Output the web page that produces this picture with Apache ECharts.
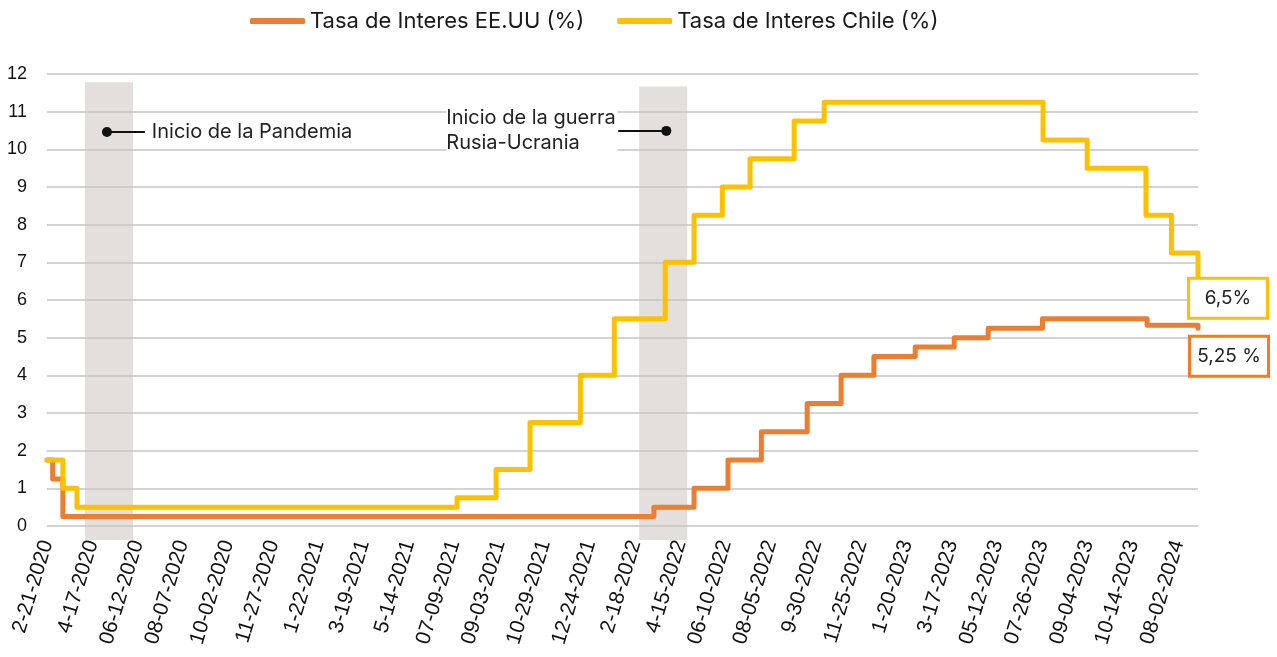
<!DOCTYPE html>
<html>
<head>
<meta charset="utf-8">
<script src="https://cdn.jsdelivr.net/npm/echarts@6/dist/echarts.min.js"></script>
<style>
  html, body { margin: 0; padding: 0; background: #fff; }
  #main { width: 1277px; height: 657px; }
</style>
</head>
<body>
<div id="main"></div>
<script>
// x = semanas desde 2-21-2020 (una etiqueta cada 8)
var tickLabels = ['2-21-2020', '4-17-2020', '06-12-2020', '08-07-2020', '10-02-2020', '11-27-2020',
  '1-22-2021', '3-19-2021', '5-14-2021', '07-09-2021', '09-03-2021', '10-29-2021', '12-24-2021',
  '2-18-2022', '4-15-2022', '06-10-2022', '08-05-2022', '9-30-2022', '11-25-2022',
  '1-20-2023', '3-17-2023', '05-12-2023', '07-26-2023', '09-04-2023', '10-14-2023', '08-02-2024'];

// cambios de tasa (x del cambio, nuevo valor)
var usaX = [0, 1, 2.8, 107.3, 114.4, 120.4, 126.3, 134.4, 140.4, 146.2, 153.5, 160.4, 166.4, 176, 194.5, 203.5];
var usaY = [1.75, 1.25, 0.25, 0.5, 1.0, 1.75, 2.5, 3.25, 4.0, 4.5, 4.75, 5.0, 5.25, 5.5, 5.33, 5.25];

var chileX = [0, 2.8, 5.3, 72.5, 79.4, 85.4, 94.3, 100.3, 109.3, 114.4, 119.4, 124.3, 132.1, 137.4, 176.1, 183.9, 194.3, 198.8, 203.5];
var chileY = [1.75, 1.0, 0.5, 0.75, 1.5, 2.75, 4.0, 5.5, 7.0, 8.25, 9.0, 9.75, 10.75, 11.25, 10.25, 9.5, 8.25, 7.25, 6.5];

// periodos sombreados
var pandemia = [6.7, 15.2];
var guerra = [104.7, 113.2];

var xMax = 203.5;
var textFont = 'Inter';
var axisFont = 'Liberation Sans';

function pairs(xs, ys) {
  var out = [];
  for (var i = 0; i < xs.length; i++) out.push([xs[i], ys[i]]);
  return out;
}

var myChart = echarts.init(document.getElementById('main'));

myChart.setOption({
  animation: false,
  backgroundColor: '#fff',
  legend: {
    top: 5,
    left: 245,
    itemWidth: 55,
    itemHeight: 6,
    itemGap: 33,
    icon: 'roundRect',
    textStyle: { fontFamily: textFont, fontSize: 22, color: '#1a1a1a' },
    data: ['Tasa de Interes EE.UU (%)', 'Tasa de Interes Chile (%)']
  },
  grid: [
    { left: 47, right: 79, top: 74, bottom: 131, outerBoundsMode: 'none' },
    { left: 47, right: 79, top: 74, bottom: 117, outerBoundsMode: 'none' }
  ],
  xAxis: [
    {
      type: 'value',
      gridIndex: 0,
      min: 0,
      max: xMax,
      interval: 8,
      axisLine: { show: false },
      axisTick: { show: false },
      splitLine: { show: false },
      axisLabel: {
        rotate: 73,
        margin: 15,
        showMaxLabel: false,
        fontFamily: axisFont,
        fontSize: 21,
        color: '#111',
        formatter: function (v) {
          return tickLabels[Math.round(v / 8)] || '';
        }
      }
    },
    { type: 'value', gridIndex: 1, min: 0, max: xMax, show: false }
  ],
  yAxis: [
    {
      type: 'value',
      gridIndex: 0,
      min: 0,
      max: 12,
      interval: 1,
      axisLine: { show: false },
      axisTick: { show: false },
      axisLabel: { margin: 20, fontFamily: axisFont, fontSize: 18, color: '#111' },
      splitLine: { lineStyle: { color: '#c4c4c4', width: 1.5 } }
    },
    { type: 'value', gridIndex: 1, min: -0.37, max: 12, show: false }
  ],
  series: [
    {
      name: 'Tasa de Interes EE.UU (%)',
      type: 'line',
      step: 'end',
      showSymbol: false,
      color: '#ed7d31',
      lineStyle: { width: 5, cap: 'round', join: 'round' },
      data: pairs(usaX, usaY),
      endLabel: {
        show: true,
        formatter: '{a|5,25 %}',
        backgroundColor: '#fff',
        borderColor: '#f47b20',
        borderWidth: 3,
        padding: [3, 3],
        offset: [-15, 28],
        rich: { a: { width: 70, height: 31, lineHeight: 31, align: 'center', fontFamily: textFont, fontSize: 19, color: '#222' } }
      }
    },
    {
      name: 'Tasa de Interes Chile (%)',
      type: 'line',
      step: 'end',
      showSymbol: false,
      color: '#ffc000',
      lineStyle: { width: 5, cap: 'round', join: 'round' },
      data: pairs(chileX, chileY),
      endLabel: {
        show: true,
        formatter: '{a|6,5%}',
        backgroundColor: '#fff',
        borderColor: '#ffc000',
        borderWidth: 3,
        padding: [3, 3],
        offset: [-16, 17],
        rich: { a: { width: 70, height: 31, lineHeight: 31, align: 'center', fontFamily: textFont, fontSize: 19, color: '#222' } }
      }
    },
    {
      // franjas grises y notas
      type: 'line',
      xAxisIndex: 1,
      yAxisIndex: 1,
      data: [],
      silent: true,
      z: 5,
      markArea: {
        silent: true,
        itemStyle: { color: 'rgba(203,197,191,0.55)' },
        data: [
          [{ coord: [pandemia[0], -0.37] }, { coord: [pandemia[1], 11.78] }],
          [{ coord: [guerra[0], -0.37] }, { coord: [guerra[1], 11.67] }]
        ]
      },
      markLine: {
        silent: true,
        symbol: ['circle', 'none'],
        symbolSize: 10,
        lineStyle: { color: '#111', width: 2, type: 'solid' },
        label: { show: true, position: 'end', distance: 7, fontFamily: textFont, fontSize: 20, color: '#222' },
        data: [
          [
            { coord: [10.6, 10.46], label: { formatter: 'Inicio de la Pandemia' } },
            { coord: [17.3, 10.46] }
          ],
          [
            {
              coord: [109.5, 10.49],
              label: {
                formatter: '{a|Inicio de la guerra}\n{a|Rusia-Ucrania}',
                backgroundColor: '#fff',
                distance: 1,
                rich: { a: { width: 171, align: 'left', lineHeight: 25, fontFamily: textFont, fontSize: 20, color: '#222' } }
              }
            },
            { coord: [101.0, 10.49] }
          ]
        ]
      }
    }
  ]
});
</script>
</body>
</html>
